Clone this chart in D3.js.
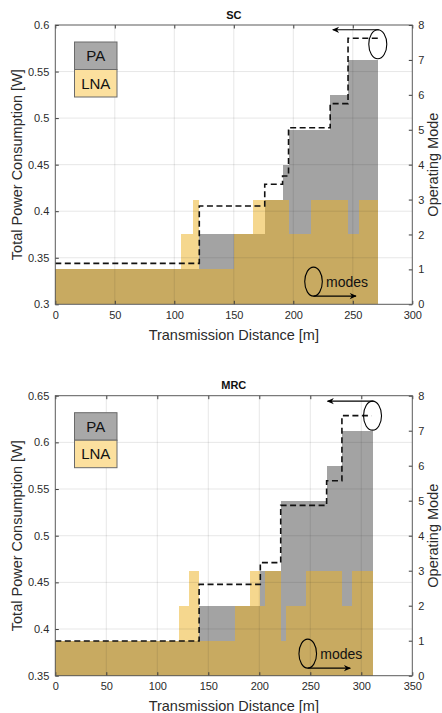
<!DOCTYPE html>
<html>
<head>
<meta charset="utf-8">
<script src="https://cdn.jsdelivr.net/npm/d3@7"></script>
<style>
  html, body { margin: 0; padding: 0; background: #fff; }
  svg { display: block; font-family: "Liberation Sans", Arial, sans-serif; }
</style>
</head>
<body>
<svg id="chart" width="442" height="713"></svg>
<script>
// ---------- DATA ----------
const seriesNames = ["PA", "LNA"];

// SC panel
const scTitle = "SC";
const scPAEdges  = [0, 121, 176, 191, 196, 231, 246, 271];
const scPAModes  = [1, 2, 3, 4, 5, 6, 7];
const scLNAEdges = [0, 106, 116, 121, 150, 166, 196, 215, 246, 255, 271];
const scLNAModes = [1, 2, 3, 1, 2, 3, 2, 3, 2, 3];
const scPowerEdges = [0, 121, 176, 191, 196, 231, 246, 271];
const scPower      = [0.344, 0.4056, 0.4289, 0.4378, 0.4897, 0.5155, 0.5857];
const scXTicks = [0, 50, 100, 150, 200, 250, 300];
const scYTicks = [0.3, 0.35, 0.4, 0.45, 0.5, 0.55, 0.6];

// MRC panel
const mrcTitle = "MRC";
const mrcPAEdges  = [0, 141, 201, 221, 266, 281, 311];
const mrcPAModes  = [1, 2, 3, 5, 6, 7];
const mrcLNAEdges = [0, 121, 131, 141, 176, 191, 201, 206, 221, 226, 246, 281, 291, 311];
const mrcLNAModes = [1, 2, 3, 1, 2, 3, 2, 3, 1, 2, 3, 2, 3];
const mrcPowerEdges = [0, 141, 201, 221, 266, 281, 310];
const mrcPower      = [0.3871, 0.4479, 0.4711, 0.5325, 0.5589, 0.6286];
const mrcXTicks = [0, 50, 100, 150, 200, 250, 300, 350];
const mrcYTicks = [0.35, 0.4, 0.45, 0.5, 0.55, 0.6, 0.65];

const modeTicks = [0, 1, 2, 3, 4, 5, 6, 7, 8];

const xLabel = "Transmission Distance [m]";
const yLabel = "Total Power Consumption [W]";
const y2Label = "Operating Mode";
const modesText = "modes";

// ---------- DRAW ----------
const svg = d3.select("#chart");
const FONT = '"Liberation Sans", Arial, sans-serif';
const TXT = "#2b2b2b";

const defs = svg.append("defs");
defs.append("marker").attr("id", "ah").attr("viewBox", "0 0 10 10")
  .attr("refX", 9).attr("refY", 5).attr("markerWidth", 9).attr("markerHeight", 7)
  .attr("markerUnits", "userSpaceOnUse").attr("orient", "auto")
  .append("path").attr("d", "M0,0.5 L10,5 L0,9.5 L3,5 Z").attr("fill", "#000");

function steps(edges, vals) {
  return vals.map((v, i) => ({x0: edges[i], x1: edges[i + 1], v}));
}

function drawPanel(cfg) {
  const L = 55.3, R = 412.3;
  const x = d3.scaleLinear().domain(cfg.xDomain).range([L, R]);
  const y = d3.scaleLinear().domain(cfg.yDomain).range([cfg.bottom, cfg.top]);
  const y2 = d3.scaleLinear().domain([0, 8]).range([cfg.bottom, cfg.top]);
  const g = svg.append("g");

  // PA bars (gray, semi-transparent)
  g.append("g").selectAll("rect").data(steps(cfg.paEdges, cfg.paModes)).join("rect")
    .attr("x", d => x(d.x0)).attr("width", d => x(d.x1) - x(d.x0))
    .attr("y", d => y2(d.v)).attr("height", d => y2(0) - y2(d.v))
    .attr("fill", "rgb(128,128,128)").attr("fill-opacity", 0.72)
    .attr("shape-rendering", "crispEdges");
  // LNA bars (yellow, semi-transparent)
  g.append("g").selectAll("rect").data(steps(cfg.lnaEdges, cfg.lnaModes)).join("rect")
    .attr("x", d => x(d.x0)).attr("width", d => x(d.x1) - x(d.x0))
    .attr("y", d => y2(d.v)).attr("height", d => y2(0) - y2(d.v))
    .attr("fill", "rgb(236,177,33)").attr("fill-opacity", 0.51)
    .attr("shape-rendering", "crispEdges");

  // grid on top
  const grid = g.append("g").attr("stroke", "rgba(38,38,38,0.11)").attr("stroke-width", 1);
  cfg.xTicks.slice(1, -1).forEach(t => grid.append("line")
    .attr("x1", x(t)).attr("x2", x(t)).attr("y1", cfg.top).attr("y2", cfg.bottom));
  cfg.yTicks.slice(1, -1).forEach(t => grid.append("line")
    .attr("x1", L).attr("x2", R).attr("y1", y(t)).attr("y2", y(t)));

  // dashed power line
  const pts = cfg.power.map((v, i) => [cfg.powerEdges[i], v]);
  pts.push([cfg.powerEdges[cfg.powerEdges.length - 1], cfg.power[cfg.power.length - 1]]);
  g.append("path").datum(pts)
    .attr("d", d3.line().x(d => x(d[0])).y(d => y(d[1])).curve(d3.curveStepAfter))
    .attr("fill", "none").attr("stroke", "#111").attr("stroke-width", 1.6)
    .attr("stroke-dasharray", "6,3.5");

  // axes (ticks inward)
  const axStyle = sel => {
    sel.select(".domain").remove();
    sel.selectAll("line").attr("stroke", "#3a3a3a");
    sel.selectAll("text").attr("fill", TXT).style("font-family", FONT).style("font-size", "11px");
  };
  g.append("g").attr("transform", `translate(0,${cfg.bottom})`)
    .call(d3.axisBottom(x).tickValues(cfg.xTicks).tickFormat(d3.format("d")).tickSizeInner(-3.5).tickSizeOuter(0).tickPadding(7))
    .call(axStyle);
  g.append("g").attr("transform", `translate(0,${cfg.top})`)
    .call(d3.axisTop(x).tickValues(cfg.xTicks).tickFormat("").tickSizeInner(-3.5).tickSizeOuter(0))
    .call(axStyle);
  g.append("g").attr("transform", `translate(${L},0)`)
    .call(d3.axisLeft(y).tickValues(cfg.yTicks).tickFormat(d => d3.format("")(+d.toFixed(2))).tickSizeInner(-3.5).tickSizeOuter(0).tickPadding(6))
    .call(axStyle);
  g.append("g").attr("transform", `translate(${R},0)`)
    .call(d3.axisRight(y2).tickValues(modeTicks).tickFormat(d3.format("d")).tickSizeInner(-3.5).tickSizeOuter(0).tickPadding(6))
    .call(axStyle);
  // box
  g.append("rect").attr("x", L).attr("y", cfg.top).attr("width", R - L).attr("height", cfg.bottom - cfg.top)
    .attr("fill", "none").attr("stroke", "#5a5a5a").attr("stroke-width", 1);

  // title
  g.append("text").attr("x", (L + R) / 2).attr("y", cfg.top - 6.5).attr("text-anchor", "middle")
    .style("font-family", FONT).style("font-size", "11px").style("font-weight", "bold").attr("fill", "#111")
    .text(cfg.title);
  // labels
  g.append("text").attr("x", (L + R) / 2).attr("y", cfg.bottom + 35.5).attr("text-anchor", "middle")
    .style("font-family", FONT).style("font-size", "14.5px").attr("fill", TXT).text(xLabel);
  g.append("text").attr("transform", `translate(22,${(cfg.top + cfg.bottom) / 2}) rotate(-90)`)
    .attr("text-anchor", "middle").style("font-family", FONT).style("font-size", "14.5px").attr("fill", TXT).text(yLabel);
  g.append("text").attr("transform", `translate(438.3,${(cfg.top + cfg.bottom) / 2}) rotate(-90)`)
    .attr("text-anchor", "middle").style("font-family", FONT).style("font-size", "14.5px").attr("fill", TXT).text(y2Label);

  // legend
  const lx = 74.5, ly = cfg.top + 17, lw = 42.5, lh = 27.5;
  const legColors = ["rgb(168,168,168)", "rgb(252,224,158)"];
  seriesNames.forEach((n, i) => {
    g.append("rect").attr("x", lx).attr("y", ly + i * lh).attr("width", lw).attr("height", lh)
      .attr("fill", legColors[i]).attr("stroke", "#6a6a6a").attr("stroke-width", 1);
    g.append("text").attr("x", lx + lw / 2).attr("y", ly + i * lh + lh / 2 + 5.5).attr("text-anchor", "middle")
      .style("font-family", FONT).style("font-size", "15px").attr("fill", "#111").text(n);
  });

  // top annotation: ellipse + left arrow
  const ex = x(cfg.paEdges[cfg.paEdges.length - 1]);
  const ey = y(cfg.power[cfg.power.length - 1]) + cfg.ellDy;
  g.append("ellipse").attr("cx", ex).attr("cy", ey).attr("rx", 9).attr("ry", 14.5)
    .attr("fill", "none").attr("stroke", "#000").attr("stroke-width", 1.1);
  g.append("line").attr("x1", ex + 1).attr("y1", ey - 14.5).attr("x2", ex - 45).attr("y2", ey - 14.5)
    .attr("stroke", "#000").attr("stroke-width", 1.1).attr("marker-end", "url(#ah)");

  // modes annotation
  const mx = x(cfg.modesX), my = y2(cfg.modesY);
  g.append("ellipse").attr("cx", mx).attr("cy", my).attr("rx", 8.8).attr("ry", 14.5)
    .attr("fill", "none").attr("stroke", "#000").attr("stroke-width", 1.1);
  g.append("line").attr("x1", mx).attr("y1", my + 14.5).attr("x2", mx + 42.5).attr("y2", my + 14.5)
    .attr("stroke", "#000").attr("stroke-width", 1.1).attr("marker-end", "url(#ah)");
  g.append("text").attr("x", mx + 12.5).attr("y", my + 5).style("font-family", FONT).style("font-size", "14px")
    .attr("fill", "#111").text(modesText);
}

drawPanel({
  title: scTitle, top: 25, bottom: 304.3, xDomain: [0, 300], yDomain: [0.3, 0.6],
  xTicks: scXTicks, yTicks: scYTicks,
  paEdges: scPAEdges, paModes: scPAModes, lnaEdges: scLNAEdges, lnaModes: scLNAModes,
  powerEdges: scPowerEdges, power: scPower, ellDy: 6, modesX: 217, modesY: 0.65
});
drawPanel({
  title: mrcTitle, top: 395.7, bottom: 675.7, xDomain: [0, 350], yDomain: [0.35, 0.65],
  xTicks: mrcXTicks, yTicks: mrcYTicks,
  paEdges: mrcPAEdges, paModes: mrcPAModes, lnaEdges: mrcLNAEdges, lnaModes: mrcLNAModes,
  powerEdges: mrcPowerEdges, power: mrcPower, ellDy: 0, modesX: 247.5, modesY: 0.63
});
</script>
</body>
</html>
